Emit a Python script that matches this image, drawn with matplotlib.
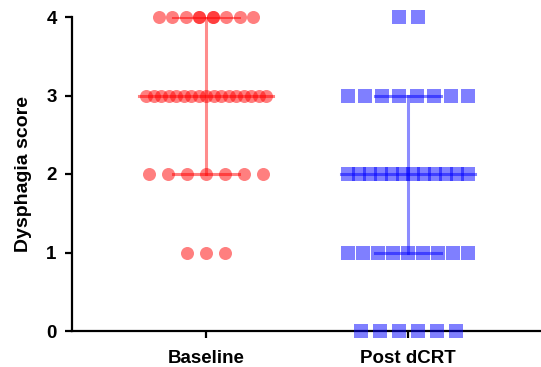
import numpy as np
import matplotlib.pyplot as plt

plt.rcParams['font.family'] = ['Liberation Sans', 'DejaVu Sans']

# Données : nombre de patients par score
groups = ['Baseline', 'Post dCRT']
scores = [0, 1, 2, 3, 4]
baseline_counts = [0, 3, 7, 17, 10]
post_counts = [6, 9, 12, 8, 2]

# statistiques (médiane et intervalle interquartile)
medians = [3, 2]
q1 = [2, 1]
q3 = [4, 3]

colors = ['#ff0000', '#0000ff']
markers = ['o', 's']

px = 1 / 202.0  # largeur d'un pixel en unités de données sur l'axe x


def row_offsets(n):
    # points alignés horizontalement, serrés si trop nombreux
    if n <= 1:
        return np.zeros(n)
    if 9 < n < 12:
        # comme GraphPad : 8 colonnes, les points en trop se superposent au centre
        base = (np.arange(8) - 3.5) * 13.5 * px
        extra = (np.arange(n - 8) - (n - 9) / 2) * 13.5 * px
        return np.concatenate([base, extra])
    gap = min(19 * px, 120 * px / (n - 1))
    return (np.arange(n) - (n - 1) / 2) * gap


fig = plt.figure(figsize=(5.41, 3.67), dpi=100)
ax = fig.add_axes([72 / 541, 36 / 367, 1 - 72 / 541, 314 / 367])

for gi, counts in enumerate([baseline_counts, post_counts]):
    xs, ys = [], []
    for s, n in zip(scores, counts):
        xs.extend(gi + row_offsets(n))
        ys.extend([s] * n)
    ax.scatter(xs, ys, s=88, marker=markers[gi], color=colors[gi], alpha=0.5,
               linewidths=0, clip_on=False, zorder=3)

    # barre d'erreur : médiane + IQR
    c = colors[gi]
    ax.plot([gi, gi], [q1[gi], q3[gi]], color=c, alpha=0.45, lw=2.2, zorder=2)
    ax.plot([gi - 0.33, gi + 0.33], [medians[gi]] * 2, color=c, alpha=0.5, lw=2.2, zorder=4)
    for q in (q1[gi], q3[gi]):
        ax.plot([gi - 0.165, gi + 0.165], [q, q], color=c, alpha=0.5, lw=2.2, zorder=4)

ax.set_xlim(-134 / 202, 1 + 133 / 202)
ax.set_ylim(0, 4)
ax.set_yticks(scores)
ax.set_xticks([0, 1])
ax.set_xticklabels(groups)
ax.set_ylabel('Dysphagia score', fontsize=14, fontweight='bold', labelpad=10)

for lab in ax.get_xticklabels() + ax.get_yticklabels():
    lab.set_fontweight('bold')
    lab.set_fontsize(13.5)

ax.spines['top'].set_visible(False)
ax.spines['right'].set_visible(False)
for sp in ['left', 'bottom']:
    ax.spines[sp].set_linewidth(1.6)
ax.tick_params(width=1.6, length=5, pad=6)
ax.tick_params(axis='x', pad=9)

fig.savefig('out.png', dpi=100)
